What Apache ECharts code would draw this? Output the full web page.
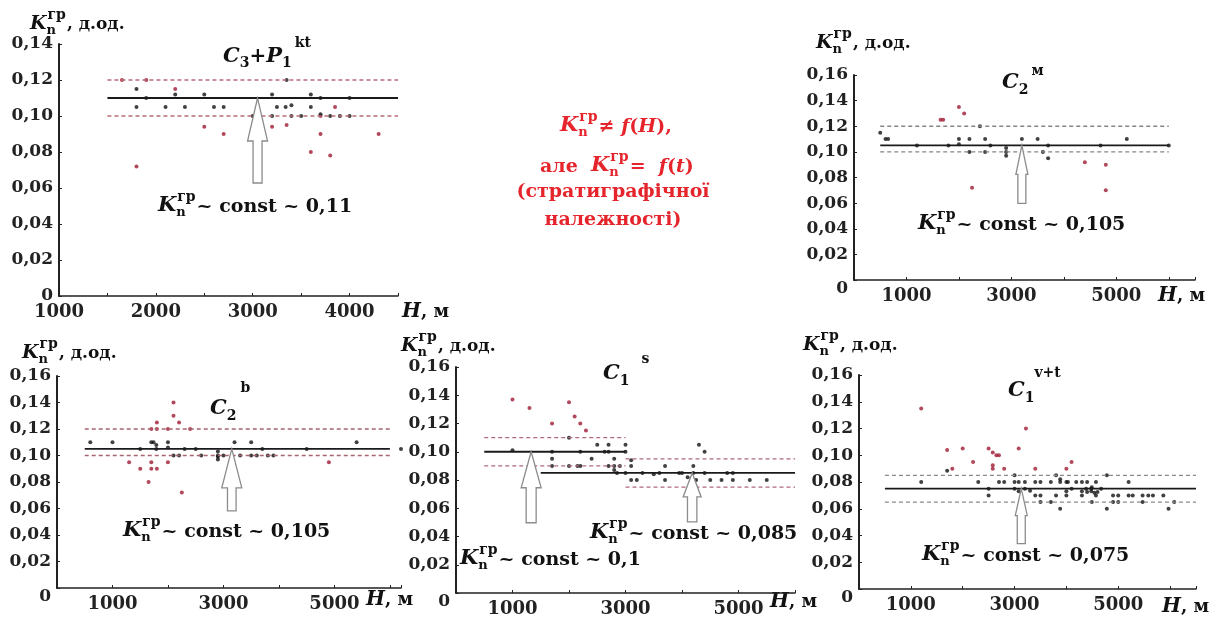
<!DOCTYPE html>
<html>
<head>
<meta charset="utf-8">
<script src="https://cdn.jsdelivr.net/npm/echarts@6/dist/echarts.min.js"></script>
<style>
html, body { margin: 0; padding: 0; background: #fff; }
#container { width: 1225px; height: 620px; }
</style>
</head>
<body>
<div id="container"></div>
<script>
// H, м / Kп гр pairs
var p1Black = [[1800,0.115],[1800,0.105],[1900,0.11],[2100,0.105],[2200,0.112],[2300,0.105],[2500,0.112],[2600,0.105],[2700,0.105],[3000,0.10],[3200,0.112],[3200,0.10],[3250,0.105],[3350,0.12],[3340,0.105],[3400,0.106],[3400,0.10],[3500,0.10],[3600,0.112],[3600,0.105],[3700,0.11],[3700,0.101],[3800,0.10],[3900,0.10],[4000,0.11],[4000,0.10]];
var p1Red = [[1650,0.12],[1900,0.12],[2200,0.115],[2500,0.094],[2700,0.09],[1800,0.072],[3200,0.094],[3350,0.095],[3600,0.08],[3700,0.09],[3700,0.10],[3800,0.078],[3850,0.105],[4300,0.09]];
var p2Black = [[500,0.115],[600,0.11],[650,0.11],[1200,0.105],[1800,0.105],[2000,0.11],[2000,0.106],[2200,0.11],[2200,0.10],[2400,0.12],[2500,0.11],[2500,0.10],[2600,0.105],[2900,0.103],[2900,0.10],[2900,0.097],[3200,0.11],[3500,0.11],[3600,0.10],[3700,0.105],[3700,0.095],[4700,0.105],[5200,0.11],[6000,0.105]];
var p2Red = [[1650,0.125],[1700,0.125],[2000,0.135],[2100,0.13],[2250,0.072],[4400,0.092],[4800,0.09],[4800,0.07]];
var p3Black = [[600,0.11],[1000,0.11],[1500,0.105],[1700,0.11],[1740,0.11],[1790,0.108],[1790,0.105],[2000,0.11],[2000,0.106],[2100,0.10],[2200,0.10],[2300,0.105],[2500,0.105],[2600,0.10],[2900,0.103],[2900,0.10],[2900,0.099],[2900,0.097],[3000,0.10],[3200,0.11],[3300,0.10],[3500,0.11],[3500,0.10],[3600,0.10],[3700,0.105],[3800,0.10],[3900,0.10],[4500,0.105],[5400,0.11],[6200,0.105]];
var p3Red = [[1300,0.095],[1500,0.09],[1650,0.08],[1700,0.12],[1700,0.095],[1700,0.09],[1800,0.125],[1800,0.12],[1800,0.09],[2000,0.12],[2000,0.095],[2100,0.14],[2100,0.13],[2200,0.125],[2250,0.072],[2400,0.12],[4900,0.095]];
var p4Black = [[1000,0.101],[1700,0.10],[1700,0.095],[1700,0.09],[2000,0.11],[2000,0.09],[2150,0.09],[2200,0.09],[2200,0.10],[2400,0.095],[2500,0.105],[2630,0.10],[2700,0.105],[2700,0.10],[2700,0.09],[2800,0.095],[2800,0.09],[2800,0.087],[2850,0.085],[2900,0.09],[3000,0.105],[3000,0.10],[3000,0.085],[3100,0.094],[3100,0.09],[3100,0.08],[3200,0.08],[3300,0.085],[3500,0.084],[3600,0.085],[3700,0.09],[3700,0.08],[3950,0.085],[4000,0.085],[4100,0.082],[4200,0.09],[4200,0.085],[4200,0.08],[4250,0.08],[4300,0.105],[4400,0.10],[4400,0.085],[4500,0.08],[4700,0.08],[4800,0.085],[4900,0.085],[4900,0.08],[5200,0.08],[5500,0.08]];
var p4Red = [[1000,0.137],[1300,0.131],[1700,0.12],[2000,0.135],[2100,0.125],[2200,0.12],[2300,0.115]];
var p5Black = [[1200,0.08],[1700,0.0885],[2300,0.08],[2500,0.075],[2500,0.07],[2700,0.08],[2800,0.08],[3000,0.085],[3000,0.08],[3000,0.075],[3080,0.08],[3080,0.073],[3080,0.06],[3200,0.08],[3200,0.075],[3300,0.0735],[3400,0.08],[3400,0.07],[3500,0.08],[3500,0.07],[3500,0.065],[3700,0.065],[3700,0.08],[3800,0.085],[3800,0.07],[3880,0.08],[3880,0.082],[3880,0.06],[4000,0.08],[4000,0.073],[4000,0.07],[4030,0.08],[4100,0.075],[4190,0.08],[4300,0.08],[4300,0.073],[4300,0.07],[4380,0.075],[4400,0.08],[4400,0.0725],[4480,0.075],[4480,0.073],[4490,0.076],[4490,0.065],[4540,0.072],[4570,0.08],[4570,0.07],[4600,0.0725],[4670,0.075],[4780,0.085],[4780,0.06],[4900,0.07],[4900,0.065],[5000,0.065],[5000,0.07],[5200,0.08],[5200,0.07],[5280,0.07],[5470,0.07],[5470,0.065],[5580,0.07],[5670,0.07],[5870,0.07],[5970,0.06],[6080,0.065]];
var p5Red = [[1200,0.135],[1700,0.104],[1800,0.09],[2000,0.105],[2200,0.095],[2500,0.105],[2580,0.102],[2580,0.0925],[2580,0.09],[2650,0.10],[2700,0.10],[2800,0.09],[3080,0.105],[3220,0.12],[3400,0.09],[4000,0.09],[4100,0.095]];

// average level: [H from, H to, value]; band: [H from, H to, low, high]
var p1Mean = [[1500, 4500, 0.11]];
var p1Band = [[1500, 4500, 0.10, 0.12]];
var p2Mean = [[500, 6000, 0.105]];
var p2Band = [[500, 6000, 0.10, 0.12]];
var p3Mean = [[500, 6000, 0.105]];
var p3Band = [[500, 6000, 0.10, 0.12]];
var p4Mean = [[500, 3000, 0.10], [1500, 6000, 0.085]];
var p4Band = [[500, 3000, 0.09, 0.11], [3000, 6000, 0.075, 0.095]];
var p5Mean = [[500, 6500, 0.075]];
var p5Band = [[500, 6500, 0.065, 0.085]];

// tick labels
var p1XLabels = [1000, 2000, 3000, 4000];
var xLabels = [1000, 3000, 5000];

// arrow tips [grid, H, K]
var arrowTips = [[0, 3050, 0.11], [1, 3200, 0.105], [2, 3150, 0.105], [3, 1330, 0.10], [3, 4180, 0.085], [4, 3130, 0.075]];

var FONT = "'DejaVu Serif'";
var BLACK = '#111111';
var RED = '#9e1a32';

var panels = [
    {grid: {left: 59, top: 44, width: 339, height: 252}, xMin: 1000, xMax: 4500, xStep: 500, labels: p1XLabels, yMax: 0.14,
        black: p1Black, red: p1Red, mean: p1Mean, band: p1Band, dash: '#b86c7a', zeroTop: false},
    {grid: {left: 854, top: 75, width: 341, height: 205}, xMin: 0, xMax: 6500, xStep: 1000, labels: xLabels, yMax: 0.16,
        black: p2Black, red: p2Red, mean: p2Mean, band: p2Band, dash: '#858585', zeroTop: true},
    {grid: {left: 57, top: 376, width: 344, height: 212}, xMin: 0, xMax: 6200, xStep: 1000, labels: xLabels, yMax: 0.16,
        black: p3Black, red: p3Red, mean: p3Mean, band: p3Band, dash: '#a8646f', zeroTop: true},
    {grid: {left: 456, top: 367, width: 339, height: 226}, xMin: 0, xMax: 6000, xStep: 1000, labels: xLabels, yMax: 0.16,
        black: p4Black, red: p4Red, mean: p4Mean, band: p4Band, dash: '#b06a78', zeroTop: true},
    {grid: {left: 859, top: 375, width: 337, height: 214}, xMin: 0, xMax: 6500, xStep: 1000, labels: xLabels, yMax: 0.16,
        black: p5Black, red: p5Red, mean: p5Mean, band: p5Band, dash: '#8a8a8a', zeroTop: true}
];

var grids = [], xAxes = [], yAxes = [], series = [];
panels.forEach(function (p, gi) {
    grids.push(p.grid);
    var lbls = p.labels;
    xAxes.push({
        gridIndex: gi, type: 'value', min: p.xMin, max: p.xMax, interval: p.xStep,
        axisLine: {show: true, onZero: false, lineStyle: {color: '#222', width: 1.5}},
        axisTick: {show: true, inside: true, length: 3, lineStyle: {color: '#222'}},
        splitLine: {show: false},
        axisLabel: {
            show: true, margin: 7, color: '#222', fontFamily: FONT, fontWeight: 'bold', fontSize: 18,
            showMinLabel: true, showMaxLabel: true, hideOverlap: false,
            formatter: function (v) { return lbls.indexOf(v) >= 0 ? String(v) : ''; }
        }
    });
    yAxes.push({
        gridIndex: gi, type: 'value', min: 0, max: p.yMax, interval: 0.02,
        axisLine: {show: true, onZero: false, lineStyle: {color: '#222', width: 2}},
        axisTick: {show: true, inside: true, length: 3, lineStyle: {color: '#222'}},
        splitLine: {show: false},
        axisLabel: {
            show: true, margin: 6, color: '#222', fontFamily: FONT, fontWeight: 'bold', fontSize: 17,
            verticalAlignMinLabel: p.zeroTop ? 'top' : 'middle',
            formatter: function (v) { return v === 0 ? '0' : v.toFixed(2).replace('.', ','); }
        }
    });
    p.band.forEach(function (b) {
        [b[2], b[3]].forEach(function (lv) {
            series.push({
                type: 'line', xAxisIndex: gi, yAxisIndex: gi, symbol: 'none', silent: true,
                data: [[b[0], lv], [b[1], lv]],
                lineStyle: {color: p.dash, width: 1.3, type: [4, 3]}
            });
        });
    });
    p.mean.forEach(function (m) {
        series.push({
            type: 'line', xAxisIndex: gi, yAxisIndex: gi, symbol: 'none', silent: true,
            data: [[m[0], m[2]], [m[1], m[2]]],
            lineStyle: {color: '#1a1a1a', width: 1.8}
        });
    });
    series.push({type: 'scatter', xAxisIndex: gi, yAxisIndex: gi, symbolSize: 4, clip: false,
        itemStyle: {color: RED}, data: p.red});
    series.push({type: 'scatter', xAxisIndex: gi, yAxisIndex: gi, symbolSize: 4, clip: false,
        itemStyle: {color: BLACK}, data: p.black});
});

var dom = document.getElementById('container');
var myChart = echarts.init(dom, null, {renderer: 'canvas'});
var option = {
    backgroundColor: '#fff',
    animation: false,
    grid: grids,
    xAxis: xAxes,
    yAxis: yAxes,
    series: series
};
myChart.setOption(option);

// ---- text pieces with sub/superscripts ----
var mctx = document.createElement('canvas').getContext('2d');
function tw(text, font) { mctx.font = font; return mctx.measureText(text).width; }
function f(style, size) { return style + ' ' + size + 'px ' + FONT; }

// parts: [text, font, dy, dx, noAdvance]
function seq(x, y, parts, color) {
    var children = [];
    var cx = 0;
    parts.forEach(function (p) {
        cx += (p[3] || 0);
        children.push({type: 'text', x: cx, y: p[2],
            style: {text: p[0], font: p[1], fill: color, textVerticalAlign: 'middle'}});
        if (!p[4]) cx += tw(p[0], p[1]);
    });
    return {type: 'group', x: x, y: y, children: children};
}
function kParts(kSize) {
    return [
        ['K', f('italic bold', kSize), 0],
        ['n', f('bold', 13), 7, 0, true],
        ['гр', f('bold', 14), -9, 1]
    ];
}
function kLabel(x, y, tail, kSize, tailSize, color) {
    return seq(x, y, kParts(kSize).concat([[tail, f('bold', tailSize), 1, 1]]), color || '#111');
}
function hLabel(x, y) {
    return seq(x, y, [['H', f('italic bold', 20), 0], [', м', f('bold', 18), 0]], '#111');
}

var graphics = [];
// y axis names
[[30, 24], [816, 43], [22, 353], [401, 346], [803, 345]].forEach(function (q) {
    graphics.push(kLabel(q[0], q[1], ', д.од.', 19, 17));
});
// x axis names
[[402, 312], [1158, 296], [366, 600], [770, 602], [1162, 607]].forEach(function (q) {
    graphics.push(hLabel(q[0], q[1]));
});
// const annotations
graphics.push(kLabel(158, 206, '~ const ~ 0,11', 21, 19));
graphics.push(kLabel(918, 224, '~ const ~ 0,105', 21, 19));
graphics.push(kLabel(123, 531, '~ const ~ 0,105', 21, 19));
graphics.push(kLabel(460, 559, '~ const ~ 0,1', 21, 19));
graphics.push(kLabel(590, 533, '~ const ~ 0,085', 21, 19));
graphics.push(kLabel(922, 555, '~ const ~ 0,075', 21, 19));

// stratigraphic titles
graphics.push(seq(223, 57, [
    ['C', f('italic bold', 21), 0], ['3', f('bold', 14), 6],
    ['+', f('bold', 20), 0], ['P', f('italic bold', 21), 0], ['1', f('bold', 14), 6],
    ['kt', f('bold', 14), -14, 3]], '#111'));
graphics.push(seq(1002, 83, [
    ['C', f('italic bold', 21), 0], ['2', f('bold', 14), 7], ['м', f('bold', 14), -12, 3]], '#111'));
graphics.push(seq(210, 409, [
    ['C', f('italic bold', 21), 0], ['2', f('bold', 14), 7], ['b', f('bold', 14), -21, 4]], '#111'));
graphics.push(seq(603, 374, [
    ['C', f('italic bold', 21), 0], ['1', f('bold', 14), 7], ['s', f('bold', 14), -15, 12]], '#111'));
graphics.push(seq(1008, 391, [
    ['C', f('italic bold', 21), 0], ['1', f('bold', 14), 7], ['v+t', f('bold', 14), -18, 0]], '#111'));

// red conclusion in the middle
var RT = '#e5242b';
graphics.push(seq(560, 126, kParts(21).concat([
    ['≠ ', f('bold', 19), 1, 1], ['f', f('italic bold', 19), 1], ['(', f('bold', 19), 1],
    ['H', f('italic bold', 19), 1], ['),', f('bold', 19), 1]]), RT));
graphics.push(seq(540, 166, [['але  ', f('bold', 19), 1]].concat(kParts(21)).concat([
    ['=  ', f('bold', 19), 1, 1], ['f', f('italic bold', 19), 1], ['(', f('bold', 19), 1],
    ['t', f('italic bold', 19), 1], [')', f('bold', 19), 1]]), RT));
graphics.push({type: 'text', x: 613, y: 192,
    style: {text: '(стратиграфічної', font: f('bold', 19), fill: RT, textAlign: 'center', textVerticalAlign: 'middle'}});
graphics.push({type: 'text', x: 613, y: 220,
    style: {text: 'належності)', font: f('bold', 19), fill: RT, textAlign: 'center', textVerticalAlign: 'middle'}});

// hollow arrows pointing at the average line: [length, head length, head half width, shaft half width]
var arrowSizes = [[85, 43, 10, 4.5], [58, 29, 6, 4], [62, 39, 10, 4.3], [71, 36, 10, 5], [49, 24, 9, 4.7], [55, 27, 6, 4]];
arrowTips.forEach(function (a, i) {
    var tip = myChart.convertToPixel({gridIndex: a[0]}, [a[1], a[2]]);
    var s = arrowSizes[i];
    graphics.push({
        type: 'polygon', z: 10,
        shape: {points: [
            [tip[0], tip[1]],
            [tip[0] - s[2], tip[1] + s[1]],
            [tip[0] - s[3], tip[1] + s[1]],
            [tip[0] - s[3], tip[1] + s[0]],
            [tip[0] + s[3], tip[1] + s[0]],
            [tip[0] + s[3], tip[1] + s[1]],
            [tip[0] + s[2], tip[1] + s[1]]
        ]},
        style: {fill: '#fff', stroke: '#8c8c8c', lineWidth: 1.3}
    });
});

myChart.setOption({graphic: graphics});
</script>
</body>
</html>
